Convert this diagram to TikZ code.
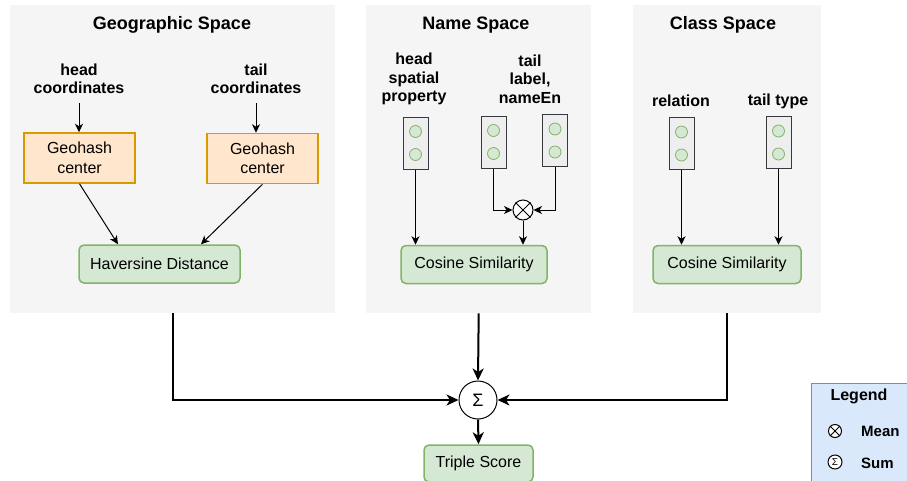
\documentclass[tikz,border=0pt]{standalone}
\usepackage{fontspec}
\setmainfont{Liberation Sans}
\usetikzlibrary{arrows.meta,calc}

\definecolor{panelfill}{HTML}{F5F5F5}
\definecolor{orfill}{HTML}{FFE6CC}
\definecolor{ordraw}{HTML}{D79B00}
\definecolor{grfill}{HTML}{D5E8D4}
\definecolor{grdraw}{HTML}{82B366}
\definecolor{vecfill}{HTML}{EEEEEE}
\definecolor{vecdraw}{HTML}{36393D}
\definecolor{blfill}{HTML}{DAE8FC}
\definecolor{bldraw}{HTML}{6C8EBF}

\tikzset{
  panelbox/.style={fill=panelfill, draw=none, inner sep=0, anchor=north west},
  spacetitle/.style={font=\fontsize{18}{21}\selectfont\bfseries},
  inlabel/.style={font=\fontsize{16}{18.5}\selectfont\bfseries, align=center, inner sep=0},
  geobox/.style={draw=ordraw, fill=orfill, line width=1.5pt, minimum width=111pt,
    minimum height=50pt, align=center, font=\fontsize{16}{19.5}\selectfont, inner sep=0},
  simbox/.style={draw=grdraw, fill=grfill, line width=1.5pt, rounded corners=5pt,
    minimum height=38pt, font=\fontsize{16}{19}\selectfont, inner sep=0},
  vecbox/.style={draw=vecdraw, fill=vecfill, line width=1pt, minimum width=25pt,
    minimum height=52pt, inner sep=0},
  vecdot/.style={circle, draw=grdraw, fill=grfill, minimum size=12pt, inner sep=0, line width=0.8pt},
  arr/.style={-{Stealth[length=8.5pt,width=8pt,inset=2.5pt]}, line width=1pt},
  bigarr/.style={-{Stealth[length=12pt,width=11pt,inset=3.5pt]}, line width=2pt},
  opcircle/.style={circle, draw=black, fill=white, line width=1pt, inner sep=0},
}

% embedding vector: box with two dots
\newcommand{\embvec}[2]{%
  \node[vecbox] (#1) at (#2) {};
  \node[vecdot] at ($(#1.center)+(0,-11.5)$) {};
  \node[vecdot] at ($(#1.center)+(0,11.5)$) {};
}

\begin{document}
\begin{tikzpicture}[x=1pt,y=-1pt]
\clip (0,0) rectangle (907,480);
\useasboundingbox (0,0) rectangle (907,480);

% ---- panels
\node[panelbox, minimum width=325pt, minimum height=308pt] (geo) at (10,5) {};
\node[panelbox, minimum width=225pt, minimum height=308pt] (name) at (366,5) {};
\node[panelbox, minimum width=188pt, minimum height=308pt] (cls) at (633,5) {};

\node[spacetitle] (tgeo) at (172,25) {Geographic Space};
\node[spacetitle] (tname) at (476,25) {Name Space};
\node[spacetitle] (tcls) at (723,25) {Class Space};

% ---- geographic space
\node[inlabel] (hc) at (79,79) {head\\coordinates};
\node[inlabel] (tc) at (256,79) {tail\\coordinates};
\node[geobox] (ghL) at (79.5,158) {Geohash\\center};
\node[geobox] (ghR) at (262.5,158.5) {Geohash\\center};
\node[simbox, minimum width=161pt] (hav) at (159.5,264) {Haversine Distance};

\draw[arr] (79,103) -- (ghL.north -| 79,0);
\draw[arr] (256,103) -- (ghR.north -| 256,0);
\draw[arr] (ghL.south) -- ($(hav.north)+(-41.5,0)$);
\draw[arr] (ghR.south) -- ($(hav.north)+(41.5,0)$);

% ---- name space
\node[inlabel] (hsp) at (414,79) {head\\spatial\\property};
\node[inlabel] (tln) at (530,79) {tail\\label,\\nameEn};
\embvec{nv1}{415.5,143}
\embvec{nv2}{493.5,142}
\embvec{nv3}{555,140.5}
\node[opcircle, minimum size=20pt] (mean) at (523,210) {};
\draw[line width=1pt] (mean.45) -- (mean.225) (mean.135) -- (mean.315);
\node[simbox, minimum width=146pt] (cosN) at (474,264.5) {Cosine Similarity};

\draw[arr] (nv1.south) -- (nv1.south |- cosN.north);
\draw[arr] (nv2.south) |- (mean.west);
\draw[arr] (nv3.south) |- (mean.east);
\draw[arr] (mean.south) -- (mean.south |- cosN.north);

% ---- class space
\node[inlabel] (rel) at (681,101) {relation};
\node[inlabel] (tty) at (778,101) {tail type};
\embvec{cv1}{681.5,143.5}
\embvec{cv2}{778.5,142.5}
\node[simbox, minimum width=148pt] (cosC) at (727,264.5) {Cosine Similarity};

\draw[arr] (cv1.south) -- (cv1.south |- cosC.north);
\draw[arr] (cv2.south) -- (cv2.south |- cosC.north);

% ---- aggregation
\node[opcircle, minimum size=38pt, font=\fontsize{18}{21}\selectfont] (sum) at (478,400) {Σ};
\node[simbox, minimum width=109pt, minimum height=37pt] (score) at (478.5,463.5) {Triple Score};

\draw[bigarr] (geo.south) |- (sum.west);
\draw[bigarr] (name.south) -- (sum.north);
\draw[bigarr] (cls.south) |- (sum.east);
\draw[bigarr] (sum.south) -- (score.north);

% ---- legend
\node[draw=bldraw, fill=blfill, line width=1pt, anchor=north west, minimum width=110pt,
      minimum height=110pt, inner sep=0] (legend) at (811,383) {};
\node[inlabel] (legt) at (859,396) {Legend};
\node[opcircle, minimum size=13pt] (lmean) at (835,431) {};
\draw[line width=1pt] (lmean.45) -- (lmean.225) (lmean.135) -- (lmean.315);
\node[inlabel, anchor=west, font=\fontsize{15}{18}\selectfont\bfseries] (lmeant) at (861,431) {Mean};
\node[opcircle, minimum size=14pt, font=\fontsize{10}{12}\selectfont] (lsum) at (835,462) {Σ};
\node[inlabel, anchor=west, font=\fontsize{15}{18}\selectfont\bfseries] (lsumt) at (861,463) {Sum};
\end{tikzpicture}
\end{document}
